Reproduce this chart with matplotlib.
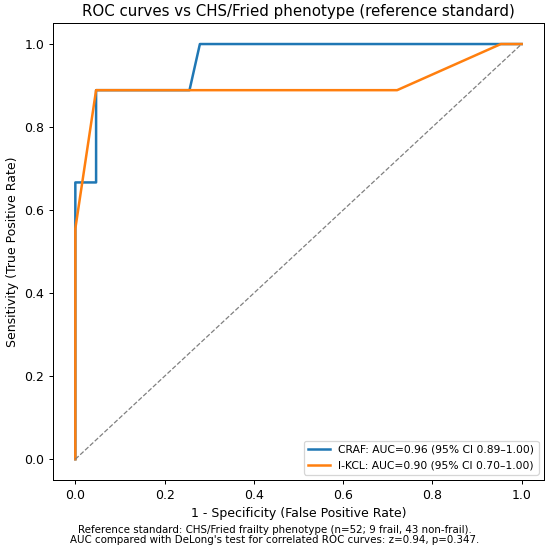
import numpy as np
import matplotlib
matplotlib.use("Agg")
import matplotlib.pyplot as plt

# ROC points (43 non-frail, 9 frail)
craf_fpr = [0.0, 0.0, 2/43, 2/43, 11/43, 12/43, 1.0]
craf_tpr = [0.0, 6/9, 6/9, 8/9, 8/9, 1.0, 1.0]
ikcl_fpr = [0.0, 0.0, 2/43, 31/43, 41/43, 1.0]
ikcl_tpr = [0.0, 5/9, 8/9, 8/9, 1.0, 1.0]

labels = ["CRAF: AUC=0.96 (95% CI 0.89\u20131.00)",
          "I-KCL: AUC=0.90 (95% CI 0.70\u20131.00)"]

dpi = 90
fig = plt.figure(figsize=(550 / dpi, 549 / dpi), dpi=dpi)
ax = fig.add_axes([0.0964, 0.1257, 0.8926, 0.8319])

ax.plot(craf_fpr, craf_tpr, color="#1f77b4", lw=2, label=labels[0])
ax.plot(ikcl_fpr, ikcl_tpr, color="#ff7f0e", lw=2, label=labels[1])
ax.plot([0, 1], [0, 1], linestyle="--", color="gray", lw=1)

ax.set_xlabel("1 - Specificity (False Positive Rate)")
ax.set_ylabel("Sensitivity (True Positive Rate)")
ax.set_title("ROC curves vs CHS/Fried phenotype (reference standard)", fontsize=12)
ax.legend(loc="lower right", fontsize=8.6)

fig.text(0.5, 0.008,
         "Reference standard: CHS/Fried frailty phenotype (n=52; 9 frail, 43 non-frail).\n"
         "AUC compared with DeLong's test for correlated ROC curves: z=0.94, p=0.347.",
         ha="center", va="bottom", fontsize=8.2, linespacing=1.0)

fig.savefig("out.png", dpi=dpi)
